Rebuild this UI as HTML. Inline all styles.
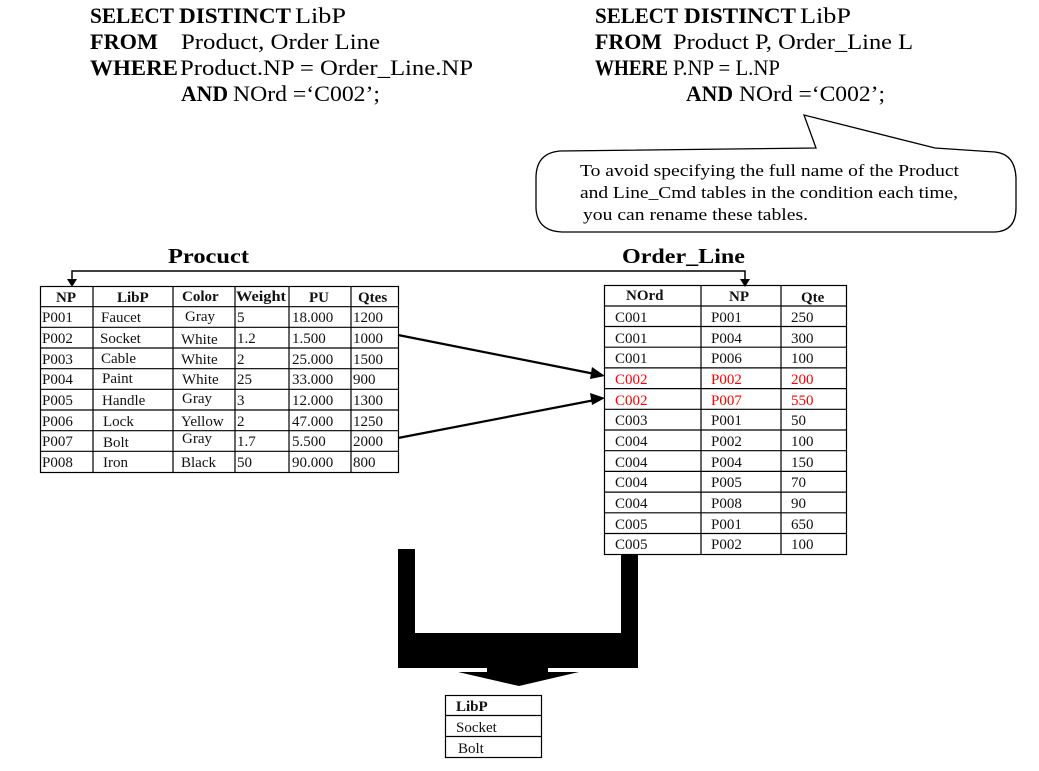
<!DOCTYPE html>
<html><head><meta charset="utf-8"><style>
html,body{margin:0;padding:0;background:#fff;}
svg{display:block;}
text{font-family:"Liberation Serif",serif;}
.b{font-weight:bold;}
.c{font-size:15px;fill:#111;}
.r{fill:#f00;}
</style></head><body>
<svg width="1039" height="771" viewBox="0 0 1039 771" xmlns="http://www.w3.org/2000/svg">
<g font-size="22">
<text x="90" y="23" class="b" textLength="84" lengthAdjust="spacingAndGlyphs">SELECT</text>
<text x="179" y="23" class="b" textLength="112" lengthAdjust="spacingAndGlyphs">DISTINCT</text>
<text x="295" y="23" textLength="51" lengthAdjust="spacingAndGlyphs">LibP</text>
<text x="90" y="49" class="b" textLength="68" lengthAdjust="spacingAndGlyphs">FROM</text>
<text x="181" y="49" textLength="199" lengthAdjust="spacingAndGlyphs">Product, Order  Line</text>
<text x="90" y="75" class="b" textLength="88" lengthAdjust="spacingAndGlyphs">WHERE</text>
<text x="180" y="75" textLength="293" lengthAdjust="spacingAndGlyphs">Product.NP =  Order_Line.NP</text>
<text x="181" y="101" class="b" textLength="47" lengthAdjust="spacingAndGlyphs">AND</text>
<text x="233" y="101" textLength="147" lengthAdjust="spacingAndGlyphs">NOrd =‘C002’;</text>

<text x="595" y="23" class="b" textLength="83" lengthAdjust="spacingAndGlyphs">SELECT</text>
<text x="684" y="23" class="b" textLength="112" lengthAdjust="spacingAndGlyphs">DISTINCT</text>
<text x="800" y="23" textLength="51" lengthAdjust="spacingAndGlyphs">LibP</text>
<text x="595" y="49" class="b" textLength="67" lengthAdjust="spacingAndGlyphs">FROM</text>
<text x="673" y="49" textLength="240" lengthAdjust="spacingAndGlyphs">Product P, Order_Line L</text>
<text x="595" y="75" class="b" textLength="73" lengthAdjust="spacingAndGlyphs">WHERE</text>
<text x="673" y="75" textLength="107" lengthAdjust="spacingAndGlyphs">P.NP = L.NP</text>
<text x="686" y="101" class="b" textLength="47" lengthAdjust="spacingAndGlyphs">AND</text>
<text x="739" y="101" textLength="146" lengthAdjust="spacingAndGlyphs">NOrd =‘C002’;</text>
</g>

<!-- callout -->
<path d="M560,151 Q536,153 536,178 L536,208 Q537,231 562,232 L995,232 Q1016,231 1016,208 L1016,178 Q1015,154 995,152 L935,148 L804,115 L816,148 Z" fill="#fff" stroke="#000" stroke-width="1.3"/>
<text x="580" y="176" font-size="17" textLength="379" lengthAdjust="spacingAndGlyphs">To avoid specifying the full name of the Product</text>
<text x="580" y="198" font-size="17" textLength="378" lengthAdjust="spacingAndGlyphs">and Line_Cmd tables in the condition each time,</text>
<text x="583" y="220" font-size="17" textLength="225" lengthAdjust="spacingAndGlyphs">you can rename these tables.</text>

<!-- titles -->
<text x="168" y="263" font-size="21" class="b" textLength="81" lengthAdjust="spacingAndGlyphs">Procuct</text>
<text x="622" y="263" font-size="21" class="b" textLength="123" lengthAdjust="spacingAndGlyphs">Order_Line</text>

<!-- top connector -->
<polyline points="72,284 72,271 745,271 745,284" fill="none" stroke="#000" stroke-width="1.5"/>
<polygon points="67,279 77,279 72,287" fill="#000"/>
<polygon points="740,279 750,279 745,287" fill="#000"/>

<!-- Product table -->
<g stroke="#000" stroke-width="1.2" fill="none">
<rect x="40.5" y="286.5" width="358" height="186"/>
<line x1="93" y1="286" x2="93" y2="472"/><line x1="173" y1="286" x2="173" y2="472"/>
<line x1="235" y1="286" x2="235" y2="472"/><line x1="289" y1="286" x2="289" y2="472"/>
<line x1="351" y1="286" x2="351" y2="472"/>
<line x1="40" y1="306.7" x2="398" y2="306.7"/><line x1="40" y1="327.3" x2="398" y2="327.3"/>
<line x1="40" y1="348" x2="398" y2="348"/><line x1="40" y1="368.7" x2="398" y2="368.7"/>
<line x1="40" y1="389.3" x2="398" y2="389.3"/><line x1="40" y1="410" x2="398" y2="410"/>
<line x1="40" y1="430.7" x2="398" y2="430.7"/><line x1="40" y1="451.3" x2="398" y2="451.3"/>
</g>
<g class="c" font-size="15">
<text x="56" y="302" class="b">NP</text><text x="117" y="302" class="b">LibP</text><text x="182" y="301" class="b">Color</text><text x="236" y="301" class="b" textLength="50" lengthAdjust="spacingAndGlyphs">Weight</text><text x="309" y="302" class="b">PU</text><text x="358" y="302" class="b">Qtes</text>
<text x="42" y="322">P001</text><text x="101" y="322">Faucet</text><text x="185" y="321">Gray</text><text x="237" y="322">5</text><text x="292" y="322">18.000</text><text x="353" y="322">1200</text>
<text x="42" y="343">P002</text><text x="100" y="343">Socket</text><text x="181" y="344">White</text><text x="237" y="343">1.2</text><text x="292" y="343">1.500</text><text x="353" y="343">1000</text>
<text x="42" y="364">P003</text><text x="101" y="363">Cable</text><text x="181" y="364">White</text><text x="237" y="364">2</text><text x="292" y="364">25.000</text><text x="353" y="364">1500</text>
<text x="42" y="384">P004</text><text x="102" y="383">Paint</text><text x="182" y="384">White</text><text x="237" y="384">25</text><text x="292" y="384">33.000</text><text x="353" y="384">900</text>
<text x="42" y="405">P005</text><text x="102" y="405">Handle</text><text x="182" y="403">Gray</text><text x="237" y="405">3</text><text x="292" y="405">12.000</text><text x="353" y="405">1300</text>
<text x="42" y="426">P006</text><text x="103" y="426">Lock</text><text x="181" y="426">Yellow</text><text x="237" y="426">2</text><text x="292" y="426">47.000</text><text x="353" y="426">1250</text>
<text x="42" y="446">P007</text><text x="103" y="447">Bolt</text><text x="182" y="443">Gray</text><text x="237" y="446">1.7</text><text x="292" y="446">5.500</text><text x="353" y="446">2000</text>
<text x="42" y="467">P008</text><text x="103" y="467">Iron</text><text x="181" y="467">Black</text><text x="237" y="467">50</text><text x="292" y="467">90.000</text><text x="353" y="467">800</text>
</g>

<!-- Order_Line table -->
<g stroke="#000" stroke-width="1.2" fill="none">
<rect x="604.5" y="285.5" width="242" height="269"/>
<line x1="701" y1="285" x2="701" y2="554"/><line x1="781" y1="285" x2="781" y2="554"/>
<line x1="604" y1="306" x2="847" y2="306"/><line x1="604" y1="326.5" x2="847" y2="326.5"/>
<line x1="604" y1="347.2" x2="847" y2="347.2"/><line x1="604" y1="367.9" x2="847" y2="367.9"/>
<line x1="604" y1="388.6" x2="847" y2="388.6"/><line x1="604" y1="409.3" x2="847" y2="409.3"/>
<line x1="604" y1="430" x2="847" y2="430"/><line x1="604" y1="450.7" x2="847" y2="450.7"/>
<line x1="604" y1="471.4" x2="847" y2="471.4"/><line x1="604" y1="492.1" x2="847" y2="492.1"/>
<line x1="604" y1="512.8" x2="847" y2="512.8"/><line x1="604" y1="533.5" x2="847" y2="533.5"/>
</g>
<g class="c" font-size="15">
<text x="626" y="300" class="b">NOrd</text><text x="729" y="301" class="b">NP</text><text x="801" y="302" class="b">Qte</text>
<text x="615" y="322">C001</text><text x="711" y="322">P001</text><text x="791" y="322">250</text>
<text x="615" y="343">C001</text><text x="711" y="343">P004</text><text x="791" y="343">300</text>
<text x="615" y="363">C001</text><text x="711" y="363">P006</text><text x="791" y="363">100</text>
<g class="r"><text x="615" y="384">C002</text><text x="711" y="384">P002</text><text x="791" y="384">200</text>
<text x="615" y="405">C002</text><text x="711" y="405">P007</text><text x="791" y="405">550</text></g>
<text x="615" y="425">C003</text><text x="711" y="425">P001</text><text x="791" y="425">50</text>
<text x="615" y="446">C004</text><text x="711" y="446">P002</text><text x="791" y="446">100</text>
<text x="615" y="467">C004</text><text x="711" y="467">P004</text><text x="791" y="467">150</text>
<text x="615" y="487">C004</text><text x="711" y="487">P005</text><text x="791" y="487">70</text>
<text x="615" y="508">C004</text><text x="711" y="508">P008</text><text x="791" y="508">90</text>
<text x="615" y="529">C005</text><text x="711" y="529">P001</text><text x="791" y="529">650</text>
<text x="615" y="549">C005</text><text x="711" y="549">P002</text><text x="791" y="549">100</text>
</g>

<!-- join arrows -->
<line x1="398" y1="335" x2="595" y2="374" stroke="#000" stroke-width="2.2"/>
<polygon points="605,376 592,367 590,379" fill="#000"/>
<line x1="398" y1="438" x2="595" y2="400" stroke="#000" stroke-width="2.2"/>
<polygon points="605,398 590,393 592,405" fill="#000"/>

<!-- big U arrow -->
<polygon points="398,549 415,549 415,633 621,633 621,555 638,555 638,668 548,668 548,672 579,672 519,686 458,672 487,672 487,668 398,668" fill="#000"/>

<!-- result table -->
<g stroke="#000" stroke-width="1.2" fill="none">
<rect x="445.5" y="695.5" width="96" height="62"/>
<line x1="445" y1="715.5" x2="541" y2="715.5"/><line x1="445" y1="736.5" x2="541" y2="736.5"/>
</g>
<g class="c" font-size="15">
<text x="456" y="711" class="b">LibP</text>
<text x="456" y="732">Socket</text>
<text x="458" y="753">Bolt</text>
</g>
</svg>
</body></html>
